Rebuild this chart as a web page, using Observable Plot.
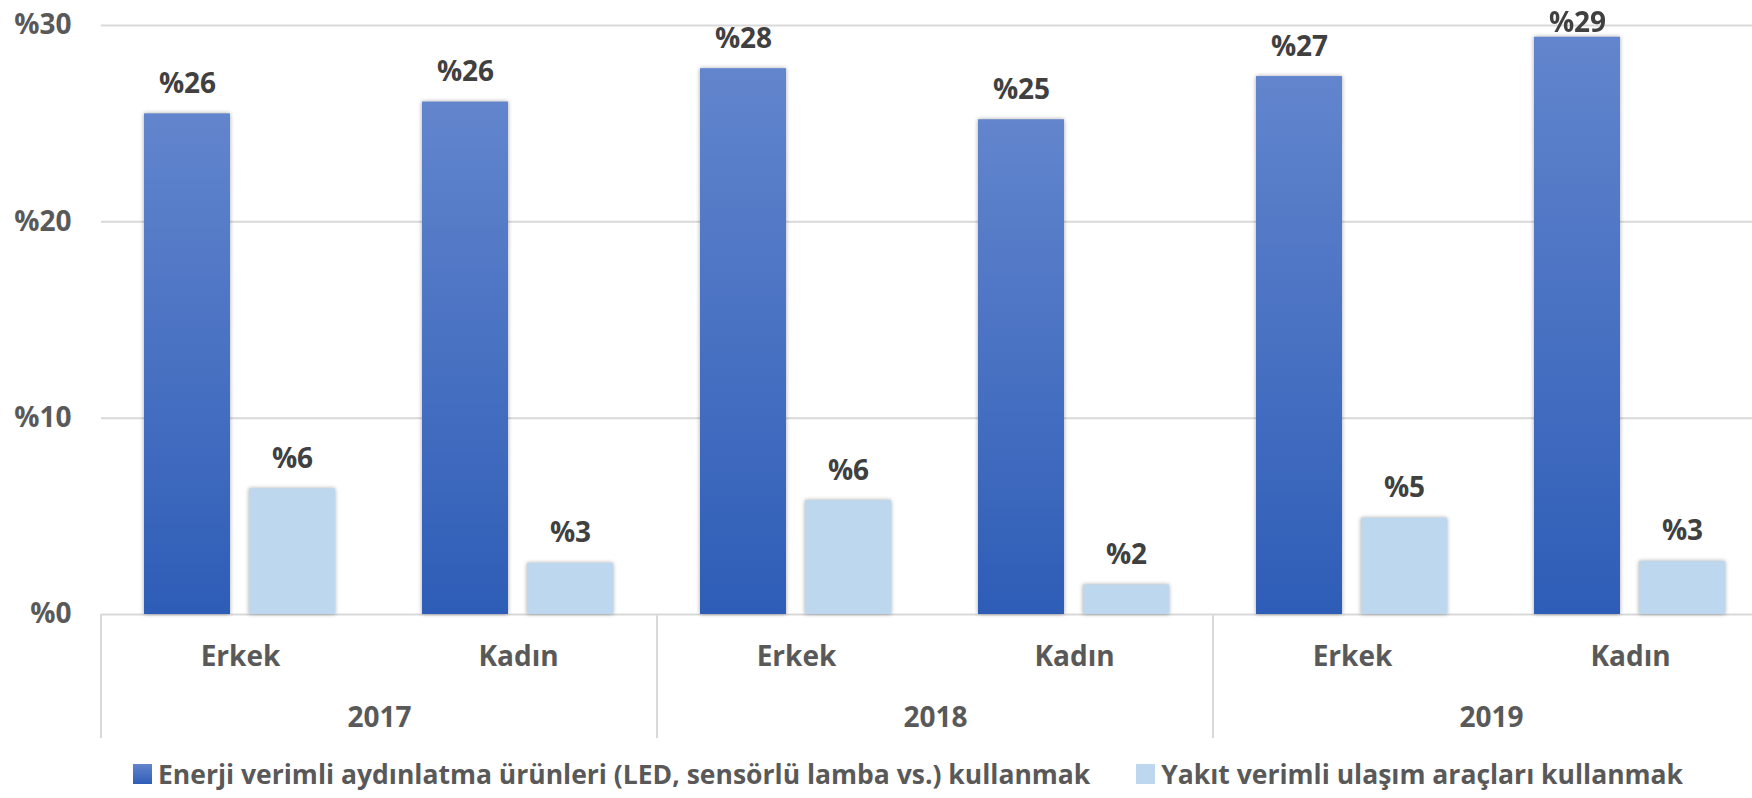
<!DOCTYPE html>
<html>
<head>
<meta charset="utf-8">
<script src="https://cdn.jsdelivr.net/npm/d3@7"></script>
<script src="https://cdn.jsdelivr.net/npm/@observablehq/plot@0.6"></script>
<style>
  html, body { margin: 0; padding: 0; background: #fff; overflow: hidden; }
  #wrap { width: 1752px; height: 798px; overflow: hidden; position: relative; font-family: "Open Sans", sans-serif; }
  #chart svg { display: block; max-width: none; }
  .legend { display: flex; align-items: center; gap: 46px; padding-left: 133px; padding-top: 9px; height: 49px; font-weight: 700; font-size: 26.5px; color: #595959; white-space: nowrap; }
  .legend .item { display: flex; align-items: center; gap: 6px; }
  .legend .sw { width: 19px; height: 20px; display: inline-block; }
</style>
</head>
<body>
<div id="wrap">
  <div id="chart"></div>
  <div class="legend" id="legend"></div>
</div>
<script>
// ---- data ----
const years = ["2017", "2018", "2019"];
const sexes = ["Erkek", "Kadın"];
const seriesNames = [
  "Enerji verimli aydınlatma ürünleri (LED, sensörlü lamba vs.) kullanmak",
  "Yakıt verimli ulaşım araçları kullanmak"
];
// order: 2017 Erkek, 2017 Kadın, 2018 Erkek, 2018 Kadın, 2019 Erkek, 2019 Kadın
const energyValues = [25.5, 26.1, 27.8, 25.2, 27.4, 29.4];
const fuelValues = [6.4, 2.6, 5.8, 1.5, 4.9, 2.7];
const yTicks = [0, 10, 20, 30];
const seriesColors = ["url(#energyGrad)", "#BDD7EE"];
const legendColors = ["linear-gradient(#6285CD, #2F5EB8)", "#BDD7EE"];
const labelCeiling = 28.6; // labels are kept inside the chart area, like the original

// ---- tables ----
const groups = years.flatMap(y => sexes.map(s => ({key: `${y} ${s}`, year: y, sex: s})));
const rows = groups.flatMap((g, i) => [
  {...g, series: seriesNames[0], value: energyValues[i]},
  {...g, series: seriesNames[1], value: fuelValues[i]}
]);
const yearRows = years.map(y => ({year: y, key: `${y} ${sexes[0]}`}));

const font = {fontFamily: "Open Sans, sans-serif", fontWeight: 700};

const plot = Plot.plot({
  width: 1771,
  height: 740,
  marginLeft: 98,
  marginRight: 0,
  marginTop: 25,
  marginBottom: 126,
  style: {fontFamily: "Open Sans, sans-serif", background: "#fff", overflow: "visible"},
  fx: {domain: groups.map(g => g.key), padding: 0, axis: null},
  x: {domain: seriesNames, paddingInner: 0.179, paddingOuter: 0.406, axis: null},
  y: {domain: [0, 30], axis: null},
  marks: [
    Plot.gridY(yTicks, {stroke: "#d9d9d9", strokeOpacity: 1, strokeWidth: 2}),
    Plot.axisY(yTicks, {
      tickSize: 0, tickPadding: 30, label: null,
      tickFormat: d => "%" + d,
      fontSize: 28, fontWeight: 700, fill: "#595959", textAnchor: "end"
    }),
    Plot.barY(rows.filter(d => d.series === seriesNames[0]), {fx: "key", x: "series", y: "value", fill: seriesColors[0]}),
    Plot.barY(rows.filter(d => d.series === seriesNames[1]), {fx: "key", x: "series", y: "value", fill: seriesColors[1]}),
    Plot.text(rows, {
      fx: "key", x: "series", y: d => Math.min(d.value, labelCeiling),
      text: d => "%" + Math.round(d.value),
      dy: -30, lineAnchor: "middle", fontSize: 28, ...font, fill: "#404040"
    }),
    Plot.text(groups, {
      fx: "key", text: "sex", frameAnchor: "bottom", dy: 43, lineAnchor: "middle",
      fontSize: 28, ...font, fill: "#595959"
    }),
    Plot.text(yearRows, {
      fx: "key", text: "year", frameAnchor: "bottom-right", textAnchor: "middle",
      dy: 104, lineAnchor: "middle", fontSize: 28, ...font, fill: "#595959"
    })
  ]
});

// gradient for the first series
const svg = d3.select(plot);
const defs = svg.insert("defs", ":first-child");
const grad = defs.append("linearGradient").attr("id", "energyGrad")
  .attr("x1", 0).attr("y1", 0).attr("x2", 0).attr("y2", 1);
grad.append("stop").attr("offset", "0%").attr("stop-color", "#6285CD");
grad.append("stop").attr("offset", "100%").attr("stop-color", "#2E5DB7");

// soft shadow on bars
svg.selectAll('g[aria-label="bar"]').style("filter", "drop-shadow(0px 0px 2px rgba(0,0,0,0.35))");

// category-axis separators between years, from the fx and y scales
const fxScale = plot.scale("fx");
const yScale = plot.scale("y");
const y0 = yScale.apply(0);
const sepKeys = years.map(y => `${y} ${sexes[0]}`);
const sepX = sepKeys.map(k => fxScale.apply(k));
sepX.push(fxScale.apply(groups[groups.length - 1].key) + fxScale.bandwidth);
svg.append("g").attr("aria-label", "separators")
  .selectAll("line").data(sepX).join("line")
  .attr("x1", d => d).attr("x2", d => d)
  .attr("y1", y0).attr("y2", y0 + 124)
  .attr("stroke", "#d9d9d9").attr("stroke-width", 2);

document.getElementById("chart").appendChild(plot);

// legend
const legend = d3.select("#legend");
seriesNames.forEach((name, i) => {
  const item = legend.append("div").attr("class", "item");
  item.append("span").attr("class", "sw").style("background", legendColors[i]);
  item.append("span").text(name);
});
</script>
</body>
</html>
